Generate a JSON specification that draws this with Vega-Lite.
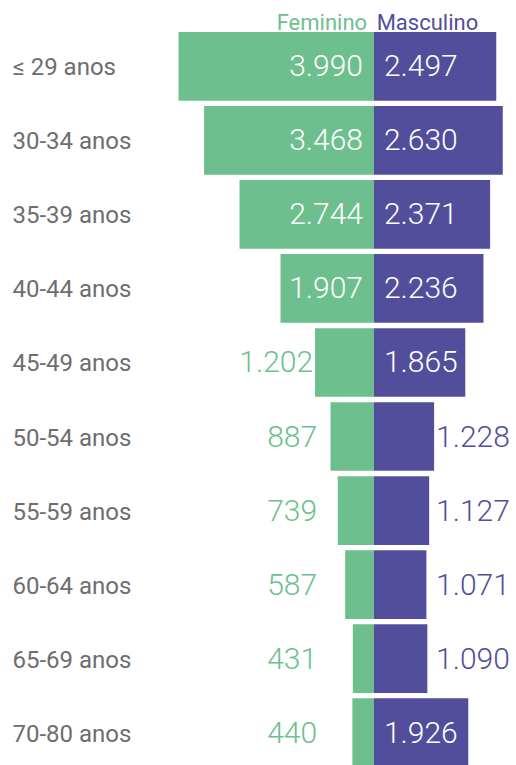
{
  "$schema": "https://vega.github.io/schema/vega-lite/v6.json",
  "width": 338,
  "height": 735,
  "autosize": {"type": "none"},
  "padding": {"left": 178, "top": 32, "right": 0, "bottom": 0},
  "background": "white",
  "config": {
    "view": {"stroke": null},
    "locale": {"number": {"decimal": ",", "thousands": ".", "grouping": [3], "currency": ["€", ""]}}
  },
  "data": {
    "values": [
      {"idade": "≤ 29 anos", "sexo": "Feminino", "valor": 3990},
      {"idade": "≤ 29 anos", "sexo": "Masculino", "valor": 2497},
      {"idade": "30-34 anos", "sexo": "Feminino", "valor": 3468},
      {"idade": "30-34 anos", "sexo": "Masculino", "valor": 2630},
      {"idade": "35-39 anos", "sexo": "Feminino", "valor": 2744},
      {"idade": "35-39 anos", "sexo": "Masculino", "valor": 2371},
      {"idade": "40-44 anos", "sexo": "Feminino", "valor": 1907},
      {"idade": "40-44 anos", "sexo": "Masculino", "valor": 2236},
      {"idade": "45-49 anos", "sexo": "Feminino", "valor": 1202},
      {"idade": "45-49 anos", "sexo": "Masculino", "valor": 1865},
      {"idade": "50-54 anos", "sexo": "Feminino", "valor": 887},
      {"idade": "50-54 anos", "sexo": "Masculino", "valor": 1228},
      {"idade": "55-59 anos", "sexo": "Feminino", "valor": 739},
      {"idade": "55-59 anos", "sexo": "Masculino", "valor": 1127},
      {"idade": "60-64 anos", "sexo": "Feminino", "valor": 587},
      {"idade": "60-64 anos", "sexo": "Masculino", "valor": 1071},
      {"idade": "65-69 anos", "sexo": "Feminino", "valor": 431},
      {"idade": "65-69 anos", "sexo": "Masculino", "valor": 1090},
      {"idade": "70-80 anos", "sexo": "Feminino", "valor": 440},
      {"idade": "70-80 anos", "sexo": "Masculino", "valor": 1926}
    ]
  },
  "transform": [
    {"calculate": "datum.sexo === 'Feminino' ? -datum.valor : datum.valor", "as": "pos"},
    {"calculate": "datum.sexo === 'Feminino' ? -max(datum.valor, 1120) : max(datum.valor, 1228)", "as": "labelPos"}
  ],
  "encoding": {
    "y": {
      "field": "idade",
      "type": "nominal",
      "sort": null,
      "scale": {"paddingInner": 0.072, "paddingOuter": 0},
      "axis": {
        "title": null,
        "domain": false,
        "ticks": false,
        "labelAlign": "left",
        "labelPadding": 166,
        "labelFont": "Roboto",
        "labelFontSize": 24,
        "labelColor": "#6e6e6e",
        "labelFontWeight": 400,
        "labelOffset": 2
      }
    }
  },
  "layer": [
    {
      "mark": {"type": "bar"},
      "encoding": {
        "x": {
          "field": "pos",
          "type": "quantitative",
          "scale": {"domain": [-4000, 2900], "nice": false, "zero": false},
          "axis": {
            "orient": "top",
            "title": null,
            "domain": false,
            "ticks": false,
            "grid": false,
            "values": [-150, 45],
            "labelExpr": "datum.value < 0 ? 'Feminino' : 'Masculino'",
            "labelAlign": {"condition": {"test": "datum.value < 0", "value": "right"}, "value": "left"},
            "labelColor": {"condition": {"test": "datum.value < 0", "value": "#6dbf8e"}, "value": "#524e9c"},
            "labelFont": "Roboto",
            "labelFontSize": 22,
            "labelBaseline": "alphabetic",
            "labelPadding": 3,
            "labelFlush": false,
            "labelOverlap": false
          }
        },
        "x2": {"datum": 0},
        "color": {
          "field": "sexo",
          "type": "nominal",
          "scale": {"domain": ["Feminino", "Masculino"], "range": ["#6dbf8e", "#524e9c"]},
          "legend": null
        }
      }
    },
    {
      "transform": [{"filter": "datum.sexo === 'Feminino' && datum.valor >= 1500"}],
      "mark": {"type": "text", "align": "right", "baseline": "middle", "dx": -11, "dy": 1, "font": "Roboto", "fontSize": 30, "fontWeight": 300, "color": "white"},
      "encoding": {
        "x": {"datum": 0},
        "text": {"field": "valor", "type": "quantitative", "format": ",d"}
      }
    },
    {
      "transform": [{"filter": "datum.sexo === 'Feminino' && datum.valor < 1500"}],
      "mark": {"type": "text", "align": "right", "baseline": "middle", "dx": -2, "dy": 1, "font": "Roboto", "fontSize": 30, "fontWeight": 300, "color": "#6dbf8e"},
      "encoding": {
        "x": {"field": "labelPos", "type": "quantitative"},
        "text": {"field": "valor", "type": "quantitative", "format": ",d"}
      }
    },
    {
      "transform": [{"filter": "datum.sexo === 'Masculino' && datum.valor >= 1800"}],
      "mark": {"type": "text", "align": "left", "baseline": "middle", "dx": 10, "dy": 1, "font": "Roboto", "fontSize": 30, "fontWeight": 300, "color": "white"},
      "encoding": {
        "x": {"datum": 0},
        "text": {"field": "valor", "type": "quantitative", "format": ",d"}
      }
    },
    {
      "transform": [{"filter": "datum.sexo === 'Masculino' && datum.valor < 1800"}],
      "mark": {"type": "text", "align": "left", "baseline": "middle", "dx": 2, "dy": 1, "font": "Roboto", "fontSize": 30, "fontWeight": 300, "color": "#524e9c"},
      "encoding": {
        "x": {"field": "labelPos", "type": "quantitative"},
        "text": {"field": "valor", "type": "quantitative", "format": ",d"}
      }
    }
  ]
}
